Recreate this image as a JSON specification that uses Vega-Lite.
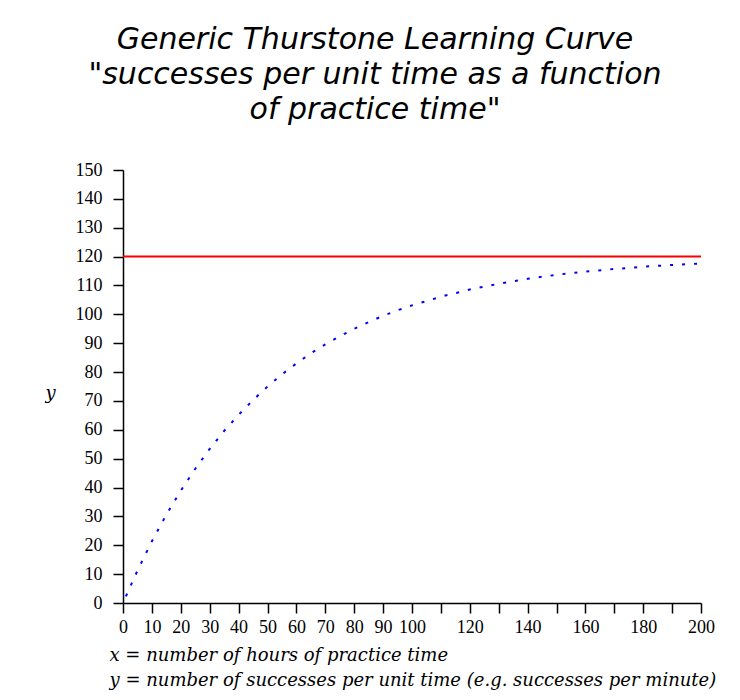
{
  "$schema": "https://vega.github.io/schema/vega-lite/v6.json",
  "width": 578,
  "height": 433,
  "autosize": {"type": "none"},
  "padding": {"left": 123, "top": 170, "right": 39, "bottom": 97},
  "background": "white",
  "config": {
    "view": {"stroke": null},
    "axis": {
      "grid": false,
      "domainColor": "black", "domainWidth": 1.5,
      "tickColor": "black", "tickWidth": 1.5, "tickSize": 10,
      "labelFont": "Liberation Serif", "labelFontSize": 18, "labelColor": "black",
      "labelOverlap": false, "labelFlush": false,
      "titleFont": "DejaVu Serif", "titleFontStyle": "italic", "titleFontWeight": "normal",
      "titleColor": "black"
    }
  },
  "title": {
    "text": ["Generic Thurstone Learning Curve", "\"successes per unit time as a function", "of practice time\""],
    "font": "DejaVu Sans",
    "fontStyle": "italic",
    "fontWeight": "normal",
    "fontSize": 30,
    "lineHeight": 35,
    "color": "black",
    "anchor": "middle",
    "dx": -37,
    "offset": 36
  },
  "datasets": {
    "curve": [
      {"x": 1, "y": 2.3}, {"x": 5, "y": 11.2}, {"x": 10, "y": 21.4}, {"x": 15, "y": 30.6},
      {"x": 20, "y": 38.9}, {"x": 25, "y": 46.5}, {"x": 30, "y": 53.4}, {"x": 35, "y": 59.6},
      {"x": 40, "y": 65.2}, {"x": 45, "y": 70.3}, {"x": 50, "y": 75.0}, {"x": 55, "y": 79.2},
      {"x": 60, "y": 83.0}, {"x": 65, "y": 86.5}, {"x": 70, "y": 89.6}, {"x": 75, "y": 92.4},
      {"x": 80, "y": 95.0}, {"x": 85, "y": 97.3}, {"x": 90, "y": 99.5}, {"x": 95, "y": 101.4},
      {"x": 100, "y": 103.1}, {"x": 110, "y": 106.1}, {"x": 120, "y": 108.6}, {"x": 130, "y": 110.6},
      {"x": 140, "y": 112.3}, {"x": 150, "y": 113.7}, {"x": 160, "y": 114.8}, {"x": 170, "y": 115.7},
      {"x": 180, "y": 116.5}, {"x": 190, "y": 117.1}, {"x": 200, "y": 117.6}
    ],
    "limit": [{"x": 0, "y": 120}, {"x": 200, "y": 120}]
  },
  "encoding": {
    "x": {
      "field": "x", "type": "quantitative",
      "scale": {"domain": [0, 200], "nice": false, "zero": false},
      "axis": {
        "values": [0,10,20,30,40,50,60,70,80,90,100,110,120,130,140,150,160,170,180,190,200],
        "labelExpr": "datum.value <= 100 || datum.value % 20 == 0 ? datum.label : ''",
        "labelPadding": 5,
        "title": ["x = number of hours of practice time", "y = number of successes per unit time (e.g. successes per minute)"],
        "titleFontSize": 18, "titleLineHeight": 25,
        "titleAnchor": "start", "titleAlign": "left", "titleBaseline": "top",
        "titleX": -14, "titleY": 43
      }
    },
    "y": {
      "field": "y", "type": "quantitative",
      "scale": {"domain": [0, 150], "nice": false},
      "axis": {
        "values": [0,10,20,30,40,50,60,70,80,90,100,110,120,130,140,150],
        "labelPadding": 11,
        "title": "y",
        "titleFontSize": 18, "titleAngle": 0,
        "titleAlign": "center", "titleBaseline": "middle",
        "titleX": -73, "titleY": 223
      }
    }
  },
  "layer": [
    {
      "data": {"name": "limit"},
      "mark": {"type": "line", "color": "#ff0000", "strokeWidth": 2}
    },
    {
      "data": {"name": "curve"},
      "mark": {"type": "line", "color": "#0000ff", "strokeWidth": 2, "strokeDash": [3, 9]}
    }
  ]
}
